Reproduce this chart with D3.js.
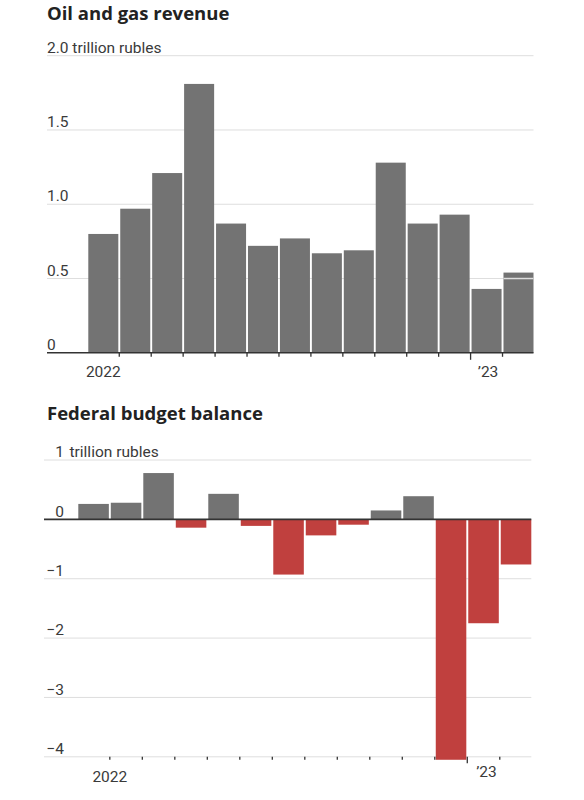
<!DOCTYPE html>
<html>
<head>
<meta charset="utf-8">
<script src="https://cdn.jsdelivr.net/npm/d3@7/dist/d3.min.js"></script>
<style>
  html, body { margin: 0; padding: 0; background: #fff; }
  svg { display: block; }
  .title { font-family: "Open Sans", "Noto Sans", sans-serif; font-weight: 700; font-size: 18.5px; fill: #222; }
  .tick-label { font-family: Roboto, "Noto Sans", sans-serif; font-weight: 400; font-size: 15.5px; fill: #3a3a3a; }
</style>
</head>
<body>
<svg id="chart" width="584" height="800"></svg>
<script>
// ---------- DATA ----------
const months = ["2022-01","2022-02","2022-03","2022-04","2022-05","2022-06","2022-07",
                "2022-08","2022-09","2022-10","2022-11","2022-12","2023-01","2023-02"];
// Oil and gas revenue, trillion rubles
const revenue = [0.80, 0.97, 1.21, 1.81, 0.87, 0.72, 0.77, 0.67, 0.69, 1.28, 0.87, 0.93, 0.43, 0.54];
// split mark inside the last bar (trillion rubles)
const revenueSplit = [null, null, null, null, null, null, null, null, null, null, null, null, null, 0.50];
// Federal budget balance, trillion rubles
const balance = [0.26, 0.28, 0.78, -0.14, 0.43, -0.11, -0.93, -0.27, -0.09, 0.15, 0.39, -4.05, -1.75, -0.76];

const revTicks = [0, 0.5, 1.0, 1.5, 2.0];
const revTickLabels = ["0", "0.5", "1.0", "1.5", "2.0 trillion rubles"];
const balTicks = [1, 0, -1, -2, -3, -4];
const balTickLabels = ["1", "0", "\u22121", "\u22122", "\u22123", "\u22124"];
const balUnit = "trillion rubles";

const yearMonths = ["2022-01", "2023-01"];
const yearLabels = ["2022", "\u201923"];

// ---------- STYLE ----------
const GRAY = "#737373", RED = "#c0403e", GRID = "#dedede", AXIS = "#333";

const svg = d3.select("#chart");

// ===== Chart 1: Oil and gas revenue =====
{
  const x = d3.scaleBand().domain(months).range([88.3, 533.5]).paddingInner(0.06).paddingOuter(0);
  const y = d3.scaleLinear().domain([0, 2]).range([352.8, 55.7]);
  const gap = x.step() - x.bandwidth();
  const g = svg.append("g");

  g.append("text").attr("class", "title").attr("x", 47).attr("y", 20).text("Oil and gas revenue");

  // gridlines
  g.selectAll(".grid").data(revTicks.filter(d => d !== 0)).join("line")
    .attr("x1", 47).attr("x2", 533.5)
    .attr("y1", d => y(d)).attr("y2", d => y(d))
    .attr("stroke", GRID).attr("stroke-width", 1);

  // tick labels
  g.selectAll(".yl").data(revTicks).join("text")
    .attr("class", "tick-label")
    .attr("x", 47).attr("y", d => y(d) - 2.8)
    .text((d, i) => revTickLabels[i]);

  // bars
  g.selectAll(".bar").data(months).join("rect")
    .attr("x", d => x(d)).attr("width", x.bandwidth())
    .attr("y", (d, i) => y(revenue[i]))
    .attr("height", (d, i) => y(0) - y(revenue[i]))
    .attr("fill", GRAY);

  // split line inside last bar
  g.selectAll(".split").data(months.filter((d, i) => revenueSplit[i] != null)).join("line")
    .attr("x1", d => x(d)).attr("x2", d => x(d) + x.bandwidth())
    .attr("y1", d => y(revenueSplit[months.indexOf(d)]))
    .attr("y2", d => y(revenueSplit[months.indexOf(d)]))
    .attr("stroke", GRID).attr("stroke-width", 1.5);

  // axis line
  g.append("line").attr("x1", 47).attr("x2", 533.5).attr("y1", y(0)).attr("y2", y(0))
    .attr("stroke", AXIS).attr("stroke-width", 1.6);

  // ticks at month boundaries
  g.selectAll(".tk").data(months.slice(1)).join("line")
    .attr("x1", d => x(d) - gap / 2).attr("x2", d => x(d) - gap / 2)
    .attr("y1", y(0)).attr("y2", d => yearMonths.includes(d) ? y(0) + 7 : y(0) + 4)
    .attr("stroke", AXIS).attr("stroke-width", 1.3);

  // year labels
  g.selectAll(".yr").data(yearMonths).join("text")
    .attr("class", "tick-label")
    .attr("text-anchor", "middle")
    .attr("x", (d, i) => x(d) + x.bandwidth() / 2 + (i === 1 ? 1.5 : 0))
    .attr("y", 376.5)
    .text((d, i) => yearLabels[i]);
}

// ===== Chart 2: Federal budget balance =====
{
  const x = d3.scaleBand().domain(months).range([78.3, 531.3]).paddingInner(0.06).paddingOuter(0);
  const y = d3.scaleLinear().domain([-4, 1]).range([756.8, 460]);
  const gap = x.step() - x.bandwidth();
  const g = svg.append("g");

  g.append("text").attr("class", "title").attr("x", 47).attr("y", 420).text("Federal budget balance");

  g.selectAll(".grid").data(balTicks.filter(d => d !== 0)).join("line")
    .attr("x1", 44).attr("x2", 531.3)
    .attr("y1", d => y(d)).attr("y2", d => y(d))
    .attr("stroke", GRID).attr("stroke-width", 1);

  g.selectAll(".yl").data(balTicks).join("text")
    .attr("class", "tick-label")
    .attr("text-anchor", "end")
    .attr("x", 64).attr("y", d => y(d) - 2.8)
    .text((d, i) => balTickLabels[i]);

  g.append("text").attr("class", "tick-label")
    .attr("x", 64).attr("dx", 5.5).attr("y", y(balTicks[0]) - 2.8)
    .text(balUnit);

  g.selectAll(".bar").data(months).join("rect")
    .attr("x", d => x(d)).attr("width", x.bandwidth())
    .attr("y", (d, i) => y(Math.max(0, balance[i])))
    .attr("height", (d, i) => Math.abs(y(balance[i]) - y(0)))
    .attr("fill", (d, i) => balance[i] < 0 ? RED : GRAY);

  g.append("line").attr("x1", 44).attr("x2", 531.3).attr("y1", y(0)).attr("y2", y(0))
    .attr("stroke", AXIS).attr("stroke-width", 1.6);

  const yb = y(-4);
  g.selectAll(".tk").data(months.slice(1)).join("line")
    .attr("x1", d => x(d) - gap / 2).attr("x2", d => x(d) - gap / 2)
    .attr("y1", yb).attr("y2", d => yearMonths.includes(d) ? yb + 6.5 : yb + 3)
    .attr("stroke", AXIS).attr("stroke-width", 1.3);

  g.selectAll(".yr").data(yearMonths).join("text")
    .attr("class", "tick-label")
    .attr("text-anchor", "middle")
    .attr("x", (d, i) => i === 0 ? x(months[1]) - gap / 2 : x(d) + x.bandwidth() / 2 + 3)
    .attr("y", (d, i) => i === 0 ? 781.5 : 776.5)
    .text((d, i) => yearLabels[i]);
}
</script>
</body>
</html>
